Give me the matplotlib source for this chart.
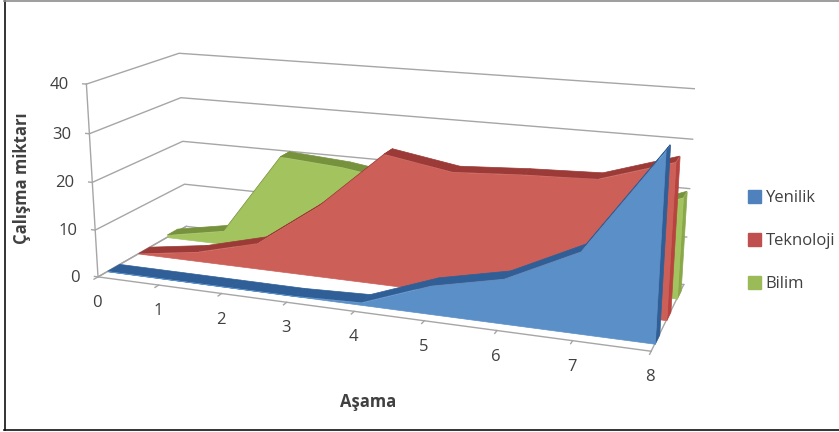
import matplotlib
matplotlib.use("Agg")
import matplotlib.pyplot as plt
from matplotlib.lines import Line2D
from matplotlib.patches import Patch
from mpl_toolkits.mplot3d import proj3d
from mpl_toolkits.mplot3d.art3d import Poly3DCollection

plt.rcParams['font.family'] = ['Open Sans', 'DejaVu Sans']

stages = [0, 1, 2, 3, 4, 5, 6, 7, 8]
z_ticks = [0, 10, 20, 30, 40]
names = ['Yenilik', 'Teknoloji', 'Bilim']
yenilik = [0, 0, 0, 0, 0.5, 5.7, 8.8, 15.7, 35.5]
teknoloji = [0, 2, 5.5, 15, 27, 24.7, 25.5, 26, 30.5]
bilim = [0.5, 3, 21, 20, 18, 14, 14, 15, 20.5]

GRID = '#a6a6a6'
TEXT = '#404040'


def draw_series(ax, vals, y0, y1, front, top, side, z):
    # top faces first, the front face goes over them
    quads = []
    for i in range(len(stages) - 1):
        quads.append([(stages[i], y0, vals[i]), (stages[i + 1], y0, vals[i + 1]),
                      (stages[i + 1], y1, vals[i + 1]), (stages[i], y1, vals[i])])
    ax.add_collection3d(Poly3DCollection(quads, facecolor=top, edgecolor=top, linewidth=0.5, zorder=z))
    right = [[(stages[-1], y0, 0), (stages[-1], y1, 0), (stages[-1], y1, vals[-1]), (stages[-1], y0, vals[-1])]]
    ax.add_collection3d(Poly3DCollection(right, facecolor=side, edgecolor=side, linewidth=0.5, zorder=z + 1))
    face = [(s, y0, v) for s, v in zip(stages, vals)] + [(stages[-1], y0, 0), (stages[0], y0, 0)]
    ax.add_collection3d(Poly3DCollection([face], facecolor=front, edgecolor=front, linewidth=0.5, zorder=z + 2))


fig = plt.figure(figsize=(8.39, 4.32), dpi=100)
ax = fig.add_axes([65 / 839, -77 / 432, 630 / 839, 630 / 432], projection='3d',
                  computed_zorder=False, proj_type='persp', focal_length=0.40)
ax.patch.set_alpha(0)
ax.set_box_aspect((1, 0.33, 0.355), zoom=0.972)
ax.view_init(elev=15.5, azim=-69.5, roll=0)
ax.set_xlim(0, 8, view_margin=0)
ax.set_ylim(0, 3, view_margin=0)
ax.set_zlim(0, 40, view_margin=0)
ax.set_axis_off()

# walls
for t in z_ticks:
    ax.plot([0, 0, 8], [0, 3, 3], [t, t, t], color=GRID, lw=1, zorder=1)
ax.plot([8, 8], [3, 0], [0, 0], color=GRID, lw=1, zorder=1)
ax.plot([0, 0], [0, 3], [0, 0], color=GRID, lw=1, zorder=1)

draw_series(ax, bilim, 2.3, 2.68, '#a3c35f', '#76923c', '#8aa84a', 10)
draw_series(ax, teknoloji, 1.3, 1.68, '#cc5f58', '#9b3a36', '#b8443f', 20)
draw_series(ax, yenilik, 0.3, 0.68, '#5b8fc7', '#2f5f96', '#2f5f96', 30)

# axes in front
ax.plot([0, 8], [0, 0], [0, 0], color=GRID, lw=1, zorder=40)
ax.plot([0, 0], [0, 0], [0, 40], color=GRID, lw=1, zorder=40)
for s in stages:
    ax.plot([s, s], [0, -0.12], [0, 0], color=GRID, lw=1, zorder=40)
    px, py, _ = proj3d.proj_transform(s, 0, 0, ax.get_proj())
    ax.annotate(str(s), (px, py), xytext=(-1, -26), textcoords='offset pixels', color=TEXT, fontsize=12,
                ha='center', va='center', zorder=41)
for t in z_ticks:
    ax.plot([0, -0.06], [0, 0], [t, t], color=GRID, lw=1, zorder=40)
    px, py, _ = proj3d.proj_transform(0, 0, t, ax.get_proj())
    ax.annotate(str(t), (px, py), xytext=(-18, -1), textcoords='offset pixels', color=TEXT, fontsize=12,
                ha='right', va='center', zorder=41)

fig.text(368 / 839, 1 - 402 / 432, 'Aşama', fontsize=12, fontweight='bold', color=TEXT, ha='center', va='center')
fig.text(22 / 839, 1 - 178 / 432, 'Çalışma miktarı', fontsize=12, fontweight='bold', color=TEXT,
         rotation=90, ha='center', va='center')

handles = [Patch(color='#4f81bd'), Patch(color='#c0504d'), Patch(color='#9bbb59')]
fig.legend(handles, names, loc='center left', bbox_to_anchor=(748 / 839, 1 - 241 / 432), frameon=False,
           fontsize=12, labelcolor=TEXT, handlelength=0.8, handleheight=0.8, handletextpad=0.25,
           labelspacing=1.6, borderpad=0, borderaxespad=0)

# frame: no line on the right side
fig.add_artist(Line2D([4.5 / 839, 4.5 / 839], [2 / 432, 431 / 432], color='#111111', lw=1.2))
fig.add_artist(Line2D([4 / 839, 1], [431 / 432, 431 / 432], color='#8c8c8c', lw=1.2))
fig.add_artist(Line2D([4 / 839, 1], [2.5 / 432, 2.5 / 432], color='#111111', lw=1.2))
fig.savefig('out.png', dpi=100)
